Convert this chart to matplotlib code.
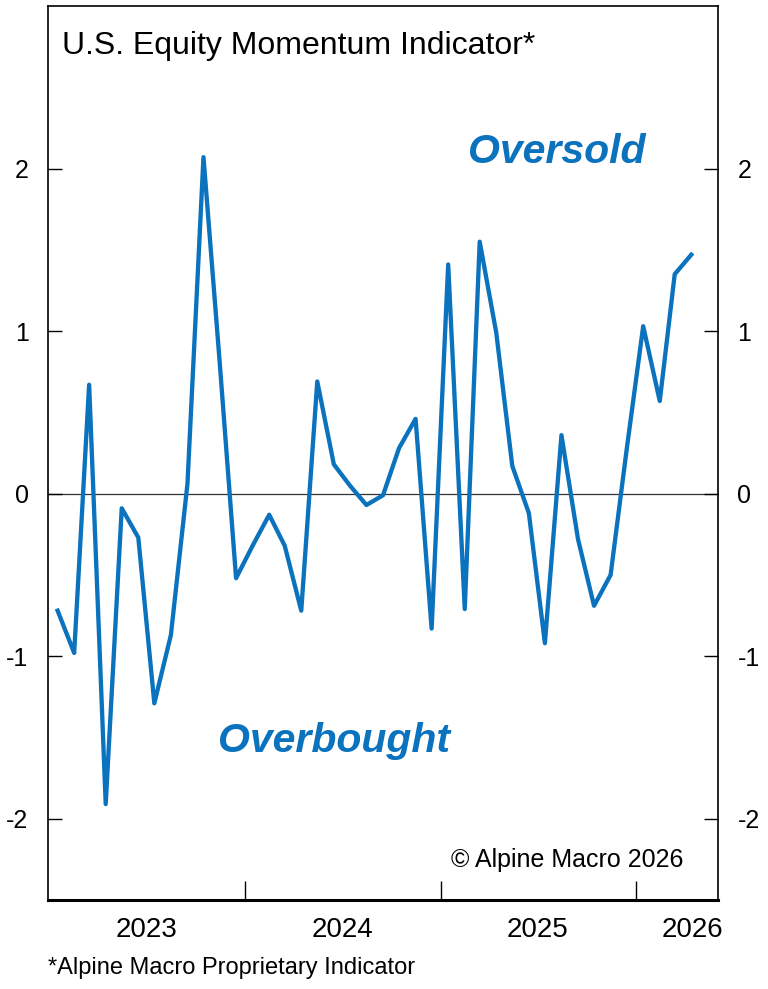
import datetime as dt
import pandas as pd
import matplotlib
matplotlib.use("Agg")
import matplotlib.pyplot as plt
import matplotlib.dates as mdates

# monthly readings, Jan 2023 - Apr 2026 (plotted mid-month)
months = pd.date_range("2023-01-01", periods=40, freq="MS") + pd.Timedelta(days=14)
momentum = [
    -0.72, -0.98, 0.67, -1.91, -0.09, -0.27, -1.29, -0.87, 0.06, 2.07,
    0.78, -0.52, -0.32, -0.13, -0.32, -0.72, 0.69, 0.18, 0.05, -0.07,
    -0.01, 0.28, 0.46, -0.83, 1.41, -0.71, 1.55, 0.99, 0.17, -0.12,
    -0.92, 0.36, -0.28, -0.69, -0.50, 0.27, 1.03, 0.57, 1.35, 1.47,
]
year_labels = ["2023", "2024", "2025", "2026"]
year_label_pos = [dt.datetime(2023, 7, 1), dt.datetime(2024, 7, 1),
                  dt.datetime(2025, 7, 1), dt.datetime(2026, 4, 17)]
year_ticks = [dt.datetime(2024, 1, 1), dt.datetime(2025, 1, 1), dt.datetime(2026, 1, 1)]
y_ticks = [-2, -1, 0, 1, 2]

BLUE = "#0B72BE"
plt.rcParams["font.family"] = ["Liberation Sans", "DejaVu Sans"]

fig = plt.figure(figsize=(7.68, 9.89), dpi=100)
ax = fig.add_axes([48 / 768, 1 - 900 / 989, 670 / 768, 894 / 989])

ax.axhline(0, color="#333333", lw=0.9, zorder=1)
ax.plot(months, momentum, color=BLUE, lw=3.1, zorder=2)

ax.set_xlim(dt.datetime(2022, 12, 28), dt.datetime(2026, 6, 4))
ax.set_ylim(-2.5, 3.0)

# y axis on both sides, ticks pointing in
ax.set_yticks(y_ticks)
ax.set_yticklabels([str(v) for v in y_ticks])
ax.tick_params(axis="y", which="both", direction="in", length=10, width=1,
               labelsize=18, pad=14, left=True, right=True,
               labelleft=True, labelright=True)

# year boundaries as major ticks, labels sit mid-year as minor ticks
ax.set_xticks(year_ticks)
ax.set_xticklabels([])
ax.set_xticks(year_label_pos, minor=True)
ax.set_xticklabels(year_labels, minor=True, fontsize=20)
ax.tick_params(axis="x", which="major", direction="in", length=14, width=1)
ax.tick_params(axis="x", which="minor", length=0, pad=12)

for side in ["left", "right", "top"]:
    ax.spines[side].set_linewidth(1.2)
ax.spines["bottom"].set_linewidth(2.2)

ax.text(0.021, 0.972, "U.S. Equity Momentum Indicator*", transform=ax.transAxes,
        fontsize=23, ha="left", va="top")
ax.text(0.76, 0.837, "Oversold", transform=ax.transAxes, fontsize=29.5,
        color=BLUE, fontweight="bold", fontstyle="italic", ha="center", va="center")
ax.text(0.427, 0.178, "Overbought", transform=ax.transAxes, fontsize=29.5,
        color=BLUE, fontweight="bold", fontstyle="italic", ha="center", va="center")
ax.text(0.948, 0.045, "\u00a9 Alpine Macro 2026", transform=ax.transAxes,
        fontsize=18, ha="right", va="center")

fig.text(48 / 768, 1 - 968 / 989, "*Alpine Macro Proprietary Indicator",
         fontsize=17, ha="left", va="center")

fig.savefig("out.png", dpi=100)
